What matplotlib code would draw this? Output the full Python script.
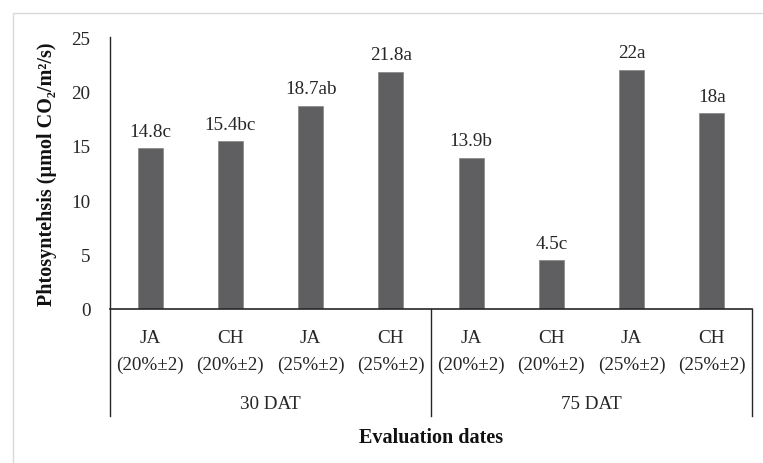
import matplotlib
matplotlib.use("Agg")
import matplotlib.pyplot as plt
import matplotlib.transforms as mtransforms
from matplotlib.patches import Rectangle
import numpy as np

# data
cultivars = ["JA", "CH", "JA", "CH", "JA", "CH", "JA", "CH"]
moisture = ["(20%±2)", "(20%±2)", "(25%±2)", "(25%±2)",
            "(20%±2)", "(20%±2)", "(25%±2)", "(25%±2)"]
dates = ["30 DAT", "75 DAT"]
photosynthesis = [14.8, 15.4, 18.7, 21.8, 13.9, 4.5, 22.0, 18.0]
letters = ["c", "bc", "ab", "a", "b", "c", "a", "a"]
value_labels = ["14.8", "15.4", "18.7", "21.8", "13.9", "4.5", "22", "18"]

plt.rcParams['font.family'] = ['Liberation Serif', 'DejaVu Serif']
fs = 13.8
fs_bold = 14.5

fig = plt.figure(figsize=(7.63, 4.64), dpi=100)
# light outer frame
fig.patches.append(Rectangle((13/763, -0.1), 1.0, 0.1 + 1 - 14/464,
                             transform=fig.transFigure, fill=False,
                             edgecolor="#d9d9d9", linewidth=1.0))

ax = fig.add_axes([110/763, 1-310/464, 642/763, 272/464])

x = np.arange(len(photosynthesis))
ax.bar(x, photosynthesis, width=0.31, color="#5f5f61",
       edgecolor="#8c8c8c", linewidth=0.6, zorder=2)

for xi, v, lab, let in zip(x, photosynthesis, value_labels, letters):
    ax.annotate(lab + let, (xi, v), xytext=(0, 6), textcoords="offset points",
                ha="center", va="bottom", fontsize=fs, color="#262626")

ax.set_xlim(-0.5, len(x) - 0.5)
ax.set_ylim(0, 25)
ax.set_yticks([0, 5, 10, 15, 20, 25])
ax.tick_params(axis="y", length=0, pad=14, labelsize=fs, labelcolor="#262626")
ax.set_xticks([])

for s in ["top", "right", "left"]:
    ax.spines[s].set_visible(False)
ax.spines["bottom"].set_color("#262626")
ax.spines["bottom"].set_linewidth(1.2)

# group separators and the y axis line extending down through the labels
for xa in [0.0, 0.5, 1.0]:
    ytop = 1.0 if xa == 0.0 else 0.0
    ax.plot([xa, xa], [ytop, -0.393], transform=ax.transAxes, clip_on=False,
            color="#262626", linewidth=1.0)

trans = mtransforms.blended_transform_factory(ax.transData, ax.transAxes)
for xi, c, m in zip(x, cultivars, moisture):
    ax.text(xi, -0.103, c, transform=trans, ha="center", va="center",
            fontsize=fs, color="#262626")
    ax.text(xi, -0.202, m, transform=trans, ha="center", va="center",
            fontsize=fs, color="#262626")
for gi, d in enumerate(dates):
    ax.text(gi * 4 + 1.5, -0.346, d, transform=trans, ha="center",
            va="center", fontsize=fs, color="#262626")

ax.text(0.5, -0.471, "Evaluation dates", transform=ax.transAxes, ha="center",
        va="center", fontsize=fs_bold, fontweight="bold", color="#111111")
ax.text(-0.098, 0.5, "Phtosyntehsis (µmol CO₂/m²/s)",
        transform=ax.transAxes, rotation=90, ha="center", va="center",
        fontsize=fs_bold, fontweight="bold", color="#111111")

fig.savefig("out.png", dpi=100)
